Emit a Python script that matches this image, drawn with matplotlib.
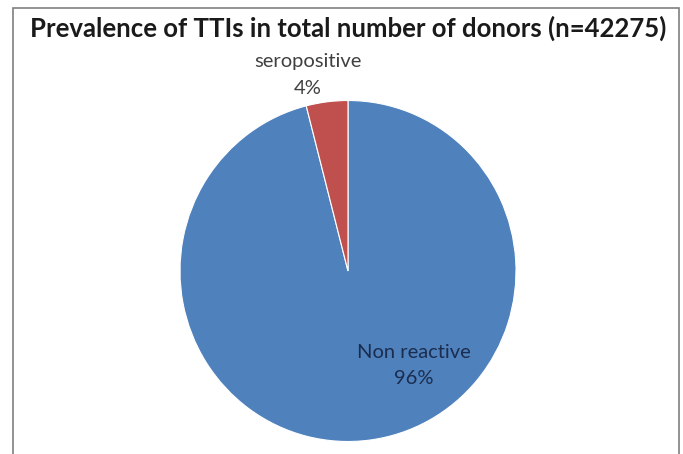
import matplotlib
matplotlib.use("Agg")
import matplotlib.pyplot as plt
from matplotlib.patches import Rectangle

title = "Prevalence of TTIs in total number of donors (n=42275)"
categories = ["Non reactive", "seropositive"]
values = [96, 4]
colors = ["#4F81BD", "#C0504D"]

plt.rcParams['font.family'] = ['Lato', 'DejaVu Sans']

W, H = 683, 454
fig = plt.figure(figsize=(W / 100, H / 100), dpi=100)
fig.patch.set_facecolor("white")

# frame
fig.add_artist(Rectangle((13 / W, -0.1), (679 - 13) / W, 1.1 - 8 / H,
                         transform=fig.transFigure, fill=False,
                         edgecolor="#7f7f7f", linewidth=1.2))

cx, cy, rx, ry = 348, 271, 168, 170.5
ax = fig.add_axes([(cx - rx) / W, (H - cy - ry) / H, 2 * rx / W, 2 * ry / H])
ax.pie(values, colors=colors, startangle=90, counterclock=False,
       radius=1.0, wedgeprops=dict(edgecolor="white", linewidth=0.8))
ax.set_xlim(-1, 1)
ax.set_ylim(-1, 1)
ax.set_aspect("auto")
ax.axis("off")

def to_data(px, py):
    return (px - cx) / rx, (cy - py) / ry

label_pos = {"Non reactive": (414, 352), "seropositive": (308, 61)}
label_color = {"Non reactive": "#1b2d4f", "seropositive": "#404040"}
for cat, v in zip(categories, values):
    px, py = label_pos[cat]
    x, y = to_data(px, py)
    x2, y2 = to_data(px, py + 27)
    ax.text(x, y, cat, ha="center", va="center", fontsize=14.5,
            color=label_color[cat], clip_on=False)
    ax.text(x2, y2, f"{v}%", ha="center", va="center", fontsize=14.5,
            color=label_color[cat], clip_on=False)

fig.text(348 / W, 1 - 28 / H, title, ha="center", va="center",
         fontsize=18.5, fontweight="bold", color="#1a1a1a")

fig.savefig("out.png", dpi=100)
